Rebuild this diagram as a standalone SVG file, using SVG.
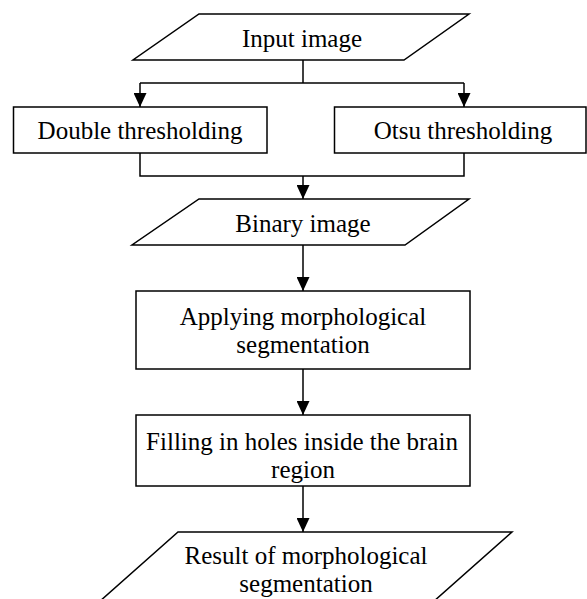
<svg xmlns="http://www.w3.org/2000/svg" width="587" height="599" viewBox="0 0 587 599">
<defs>
<style>
.s{fill:#fff;stroke:#000;stroke-width:1.5}
.c{fill:none;stroke:#000;stroke-width:1.5}
text{font-family:"Liberation Serif","Times New Roman",serif;font-size:25px;fill:#000;text-anchor:middle}
</style>
<marker id="ah" markerWidth="14" markerHeight="13" refX="14" refY="6.5" orient="auto" markerUnits="userSpaceOnUse" viewBox="0 0 14 13">
<path d="M0,0 L14,6.5 L0,13 Z" fill="#000"/>
</marker>
</defs>
<rect width="587" height="599" fill="#fff"/>
<g id="connectors">
<line class="c" x1="303" y1="60" x2="303" y2="83"/>
<line class="c" x1="140" y1="83" x2="464" y2="83"/>
<line class="c" x1="140" y1="83" x2="140" y2="107" marker-end="url(#ah)"/>
<line class="c" x1="464" y1="83" x2="464" y2="107" marker-end="url(#ah)"/>
<polyline class="c" points="140,153 140,176 464,176 464,153"/>
<line class="c" x1="303" y1="176" x2="303" y2="199" marker-end="url(#ah)"/>
<line class="c" x1="303" y1="245" x2="303" y2="291" marker-end="url(#ah)"/>
<line class="c" x1="303" y1="369" x2="303" y2="415" marker-end="url(#ah)"/>
<line class="c" x1="303" y1="486" x2="303" y2="532" marker-end="url(#ah)"/>
</g>
<g id="input">
<polygon class="s" points="199,14 469,14 404,60 133,60"/>
<text x="302" y="47">Input image</text>
</g>
<g id="double">
<rect class="s" x="13.5" y="107" width="253.5" height="46"/>
<text x="140" y="139">Double thresholding</text>
</g>
<g id="otsu">
<rect class="s" x="334.5" y="107" width="251.5" height="46"/>
<text x="463" y="139">Otsu thresholding</text>
</g>
<g id="binary">
<polygon class="s" points="199,199 469,199 405,245 132,245"/>
<text x="303" y="232">Binary image</text>
</g>
<g id="applying">
<rect class="s" x="136" y="291" width="334" height="78"/>
<text x="303" y="325">Applying morphological</text>
<text x="303" y="353">segmentation</text>
</g>
<g id="filling">
<rect class="s" x="136" y="415" width="334" height="71"/>
<text x="302" y="450">Filling in holes inside the brain</text>
<text x="303" y="478">region</text>
</g>
<g id="result">
<polygon class="s" points="178,532 512,532 433,602 99,602"/>
<text x="306" y="564">Result of morphological</text>
<text x="306" y="592">segmentation</text>
</g>
</svg>
